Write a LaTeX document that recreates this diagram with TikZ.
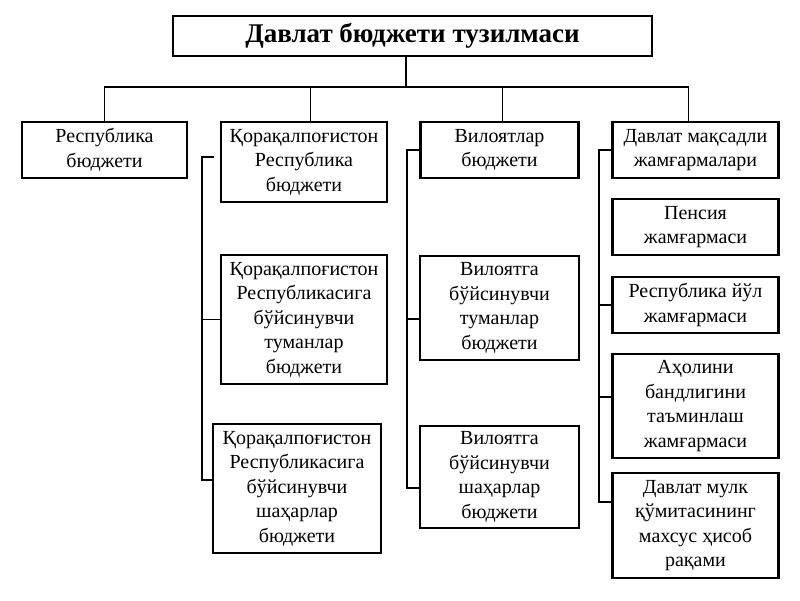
\documentclass[tikz,border=0pt]{standalone}
\usepackage{fontspec}
\setmainfont{Liberation Serif}
\usepackage{tikz}
\usetikzlibrary{positioning}
\tikzstyle{heading} = [rectangle, 
minimum width=479pt, 
minimum height=40pt, 
text centered, 
outer sep=0pt, 
draw=black, 
line width=2.8pt, 
font=\fontsize{27}{32}\selectfont\bfseries]
\tikzstyle{budget} = [rectangle, 
minimum width=166pt, 
minimum height=56pt, 
align=center, 
inner sep=0pt, 
outer sep=0pt, 
draw=black, 
line width=2.8pt, 
font=\fontsize{20}{24.5}\selectfont]
\tikzstyle{link} = [line width=1.3pt]

\begin{document}
\begin{tikzpicture}[x=1pt, y=-1pt]
\fill[white] (0,0) rectangle (800,600);
\useasboundingbox (0,0) rectangle (800,600);

\node (head) [heading] at (412.5,36) {Давлат бюджети тузилмаси};

\node (resp) [budget, anchor=north, minimum width=165pt] at (104.5,122) {Республика\\бюджети};
\node (qrb) [budget, anchor=north, minimum height=80pt] at (304,122) {Қорақалпоғистон\\Республика\\бюджети};
\node (vil) [budget, anchor=north, minimum width=158pt] at (499.5,122) {Вилоятлар\\бюджети};
\node (fund) [budget, anchor=north] at (695.5,122) {Давлат мақсадли\\жамғармалари};

% Қорақалпоғистон column
\node (qtum) [budget, below=53pt of qrb, minimum height=129pt] {Қорақалпоғистон\\Республикасига\\бўйсинувчи\\туманлар\\бюджети};
\node (qsha) [budget, below=40pt of qtum, xshift=-7pt, minimum width=168pt, minimum height=129pt] {Қорақалпоғистон\\Республикасига\\бўйсинувчи\\шаҳарлар\\бюджети};

% Вилоятлар column
\node (vtum) [budget, below=78pt of vil, minimum width=159pt, minimum height=104pt] {Вилоятга\\бўйсинувчи\\туманлар\\бюджети};
\node (vsha) [budget, below=66pt of vtum, minimum width=159pt, minimum height=102pt] {Вилоятга\\бўйсинувчи\\шаҳарлар\\бюджети};

% жамғармалар column
\node (pens) [budget, below=21pt of fund] {Пенсия\\жамғармаси};
\node (road) [budget, below=22pt of pens] {Республика йўл\\жамғармаси};
\node (empl) [budget, below=21pt of road, minimum height=104pt] {Аҳолини\\бандлигини\\таъминлаш\\жамғармаси};
\node (mulk) [budget, below=15pt of empl, minimum height=105pt] {Давлат мулк\\қўмитасининг\\махсус ҳисоб\\рақами};

\coordinate (hub) at (406,87);
\coordinate (d2) at ([xshift=6.5pt]qrb.north);
\coordinate (d3) at ([xshift=3pt]vil.north);
\coordinate (d4) at ([xshift=-7pt]fund.north);
\draw [link] (head.south -| hub) -- (hub);
\draw [link] (resp.north) |- (hub) -| (d4);
\draw [link] (d2) -- (d2 |- hub);
\draw [link] (d3) -- (d3 |- hub);

\coordinate (qbus) at (202,0);
\coordinate (vbus) at (407,0);
\coordinate (fbus) at (599,0);

\coordinate (q0) at ([yshift=5pt]qrb.west);
\coordinate (q2) at ([yshift=8.5pt]qsha.west);
\draw [link, shorten <=7pt] (q0) -- (q0 -| qbus) -- (q2 -| qbus) -- (q2);
\draw [link] (qtum.west -| qbus) -- (qtum.west);

\coordinate (v1) at ([yshift=-11pt]vtum.west);
\coordinate (v2) at ([yshift=-11pt]vsha.west);
\draw [link] (vil.west) -- (vil.west -| vbus) -- (v2 -| vbus) -- (v2);
\draw [link] (v1 -| vbus) -- (v1);

\coordinate (f3) at ([yshift=9pt]empl.west);
\coordinate (f4) at ([yshift=23.5pt]mulk.west);
\draw [link] (fund.west) -- (fund.west -| fbus) -- (f4 -| fbus) -- (f4);
\draw [link] (road.west -| fbus) -- (road.west);
\draw [link] (f3 -| fbus) -- (f3);

\end{tikzpicture}
\end{document}
